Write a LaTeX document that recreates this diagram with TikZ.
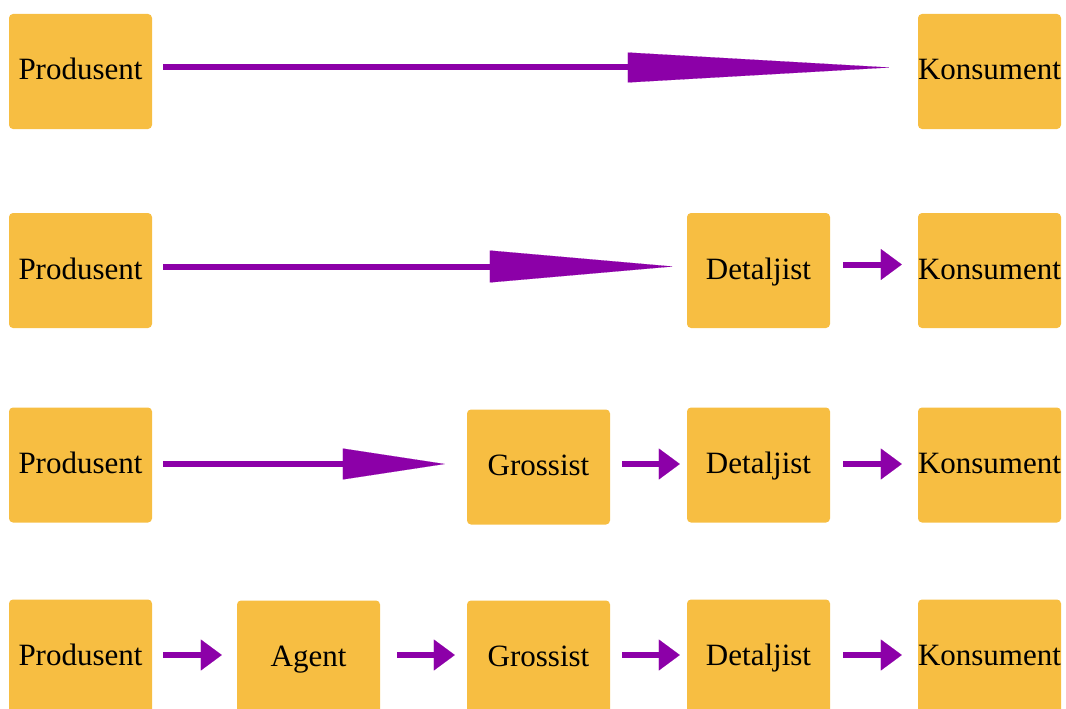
\documentclass[tikz,border=0pt]{standalone}
\usepackage{fontspec}
\setmainfont{Liberation Serif}
\usetikzlibrary{arrows.meta}
\definecolor{boxfill}{HTML}{F7BE42}
\definecolor{arrpurple}{HTML}{8C00A8}
\tikzset{
  box/.style={fill=boxfill, rounded corners=4pt, minimum width=143pt, minimum height=115pt,
    inner sep=0pt, text=black, font=\fontsize{31}{31}\selectfont, anchor=center,
    text height=22pt, text depth=5pt},
  arr/.style={draw=arrpurple, fill=arrpurple, line width=6pt},
}
\begin{document}
\begin{tikzpicture}[x=1pt, y=-1pt]
\useasboundingbox (0,0) rectangle (1066,709);
% Row 1
\node[box] (p1) at (80.5,71.5) {Produsent};
\node[box] (k1) at (989.5,71.5) {Konsument};
% Row 2
\node[box] (p2) at (80.5,270.5) {Produsent};
\node[box] (d2) at (758.5,270.5) {Detaljist};
\node[box] (k2) at (989.5,270.5) {Konsument};
% Row 3
\node[box] (p3) at (80.5,465) {Produsent};
\node[box] (g3) at (538.5,467) {Grossist};
\node[box] (d3) at (758.5,465) {Detaljist};
\node[box] (k3) at (989.5,465) {Konsument};
% Row 4
\node[box] (p4) at (80.5,657) {Produsent};
\node[box] (a4) at (308.5,658) {Agent};
\node[box] (g4) at (538.5,658) {Grossist};
\node[box] (d4) at (758.5,657) {Detaljist};
\node[box] (k4) at (989.5,657) {Konsument};
% Arrows row 1
\draw[arr, -{Triangle[length=262pt,width=30pt,line width=0.1pt]}, shorten <=11pt, shorten >=28pt]
  ([yshift=4pt]p1.east) -- ([yshift=4pt]k1.west);
% Arrows row 2
\draw[arr, -{Triangle[length=183pt,width=32pt,line width=0.1pt]}, shorten <=11pt, shorten >=14pt]
  ([yshift=4pt]p2.east) -- ([yshift=4pt]d2.west);
\draw[arr, -{Triangle[length=21pt,width=31pt,line width=0.1pt]}, shorten <=13pt, shorten >=16pt]
  ([yshift=6pt]d2.east) -- ([yshift=6pt]k2.west);
% Arrows row 3
\draw[arr, -{Triangle[length=102pt,width=31pt,line width=0.1pt]}, shorten <=11pt, shorten >=22pt]
  ([yshift=1pt]p3.east) -- ([yshift=1pt]p3.east -| g3.west);
\draw[arr, -{Triangle[length=21pt,width=31pt,line width=0.1pt]}, shorten <=12pt, shorten >=7pt]
  ([yshift=1pt]g3.east |- d3.east) -- ([yshift=1pt]d3.west);
\draw[arr, -{Triangle[length=21pt,width=31pt,line width=0.1pt]}, shorten <=13pt, shorten >=16pt]
  ([yshift=1pt]d3.east) -- ([yshift=1pt]k3.west);
% Arrows row 4
\draw[arr, -{Triangle[length=21pt,width=31pt,line width=0.1pt]}, shorten <=11pt, shorten >=15pt]
  ([yshift=2pt]p4.east) -- ([yshift=2pt]p4.east -| a4.west);
\draw[arr, -{Triangle[length=21pt,width=31pt,line width=0.1pt]}, shorten <=17pt, shorten >=12pt]
  ([yshift=2pt]a4.east |- p4.east) -- ([yshift=2pt]p4.east -| g4.west);
\draw[arr, -{Triangle[length=21pt,width=31pt,line width=0.1pt]}, shorten <=12pt, shorten >=7pt]
  ([yshift=2pt]g4.east |- d4.east) -- ([yshift=2pt]d4.west);
\draw[arr, -{Triangle[length=21pt,width=31pt,line width=0.1pt]}, shorten <=13pt, shorten >=16pt]
  ([yshift=2pt]d4.east) -- ([yshift=2pt]k4.west);
\end{tikzpicture}
\end{document}
